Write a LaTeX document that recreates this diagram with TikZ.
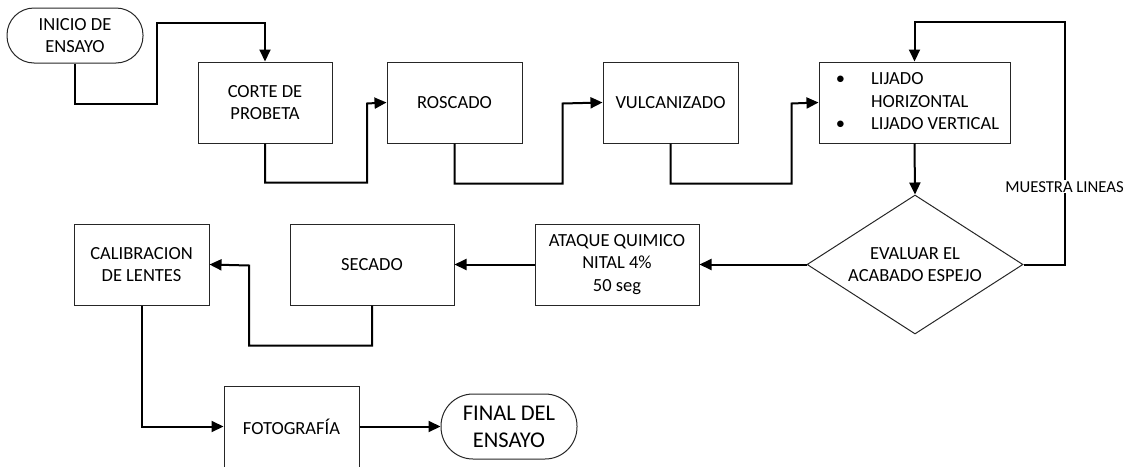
\documentclass[tikz,border=0pt]{standalone}
\usepackage{fontspec}
\setmainfont{Carlito}
\usetikzlibrary{arrows.meta,shapes.geometric}
\definecolor{flwInk}{HTML}{000000}
\definecolor{flwEdge}{HTML}{262626}
\newcommand\flwfont{\fontsize{18.5}{22.5}\selectfont}
\newcommand\flwbig{\fontsize{22.5}{27}\selectfont}
\newcommand\flwsmall{\fontsize{16.7}{20}\selectfont}
\tikzset{
  flw box/.style={draw=flwEdge, line width=1pt, minimum width=135pt, minimum height=81pt, inner sep=2pt, align=center, font=\flwfont},
  flw term/.style={flw box, minimum width=136pt},
  flw check/.style={diamond, draw=flwEdge, line width=1pt, aspect=1.55, inner sep=0pt, minimum width=216pt, minimum height=139pt, align=center, font=\flwfont},
  flw arrow/.style={draw=flwInk, line width=2pt, -{Triangle[length=12pt,width=11pt]}},
  flw label/.style={fill=white, inner sep=1pt, font=\flwsmall},
}

\begin{document}
\begin{tikzpicture}[x=1pt,y=-1pt]
  \clip (0,0) rectangle (1131,466);
  % top row
  \node[flw term, minimum height=55pt, rounded corners=27pt] (inicio) at (75,35.5) {INICIO DE\\ENSAYO};
  \node[flw box, minimum width=134pt] (corte) at (265,102.5) {CORTE DE\\PROBETA};
  \node[flw box] (rosc) at (454.5,102.5) {ROSCADO};
  \node[flw box] (vulc) at (670.5,102.5) {VULCANIZADO};
  \node[flw box, minimum width=191pt] (lijado) at (914.5,102.5)
    {\begin{tabular}{@{\hspace{6pt}}l@{\hspace{26pt}}l@{}}
      \textbullet & LIJADO\\
                  & HORIZONTAL\\
      \textbullet & LIJADO VERTICAL
    \end{tabular}};
  % middle row
  \node[flw check] (eval) at (915,264.5) {EVALUAR EL\\ACABADO ESPEJO};
  \node[flw box, minimum width=164pt] (ataque) at (617,264.5) {ATAQUE QUIMICO\\NITAL 4\%\\50 seg};
  \node[flw box, minimum width=164pt] (secado) at (372,264.5) {SECADO};
  \node[flw box] (calib) at (141.5,264.5) {CALIBRACION\\DE LENTES};
  % bottom row
  \node[flw box] (foto) at (291.5,426.5) {FOTOGRAFÍA};
  \node[flw term, minimum height=65pt, rounded corners=32pt, font=\flwbig] (final) at (509,426.5) {FINAL DEL\\ENSAYO};

  \draw[flw arrow] (inicio.south) -- ++(0,40) -| ++(82,-81) -| (corte.north);
  \draw[flw arrow] (corte.south) -- ++(0,39) -| ++(102,-79) -- (rosc.west);
  \draw[flw arrow] (rosc.south) -- ++(0,40) -| ++(108,-80) -- (vulc.west);
  \draw[flw arrow] (vulc.south) -- ++(0,40) -| ++(121,-80) -- (lijado.west);
  \draw[flw arrow] (lijado.south) -- (eval.north);
  \draw[flw arrow] (eval.east) -| node[flw label, pos=0.66] (muestra) {MUESTRA LINEAS} ++(41,-242.5) -| (lijado.north);
  \draw[flw arrow] (eval.west) -- (ataque.east);
  \draw[flw arrow] (ataque.west) -- (secado.east);
  \draw[flw arrow] (secado.south) -- ++(0,40) -| ++(-123,-80) -- (calib.east);
  \draw[flw arrow] (calib.south) |- (foto.west);
  \draw[flw arrow] (foto.east) -- (final.west);
\end{tikzpicture}
\end{document}
